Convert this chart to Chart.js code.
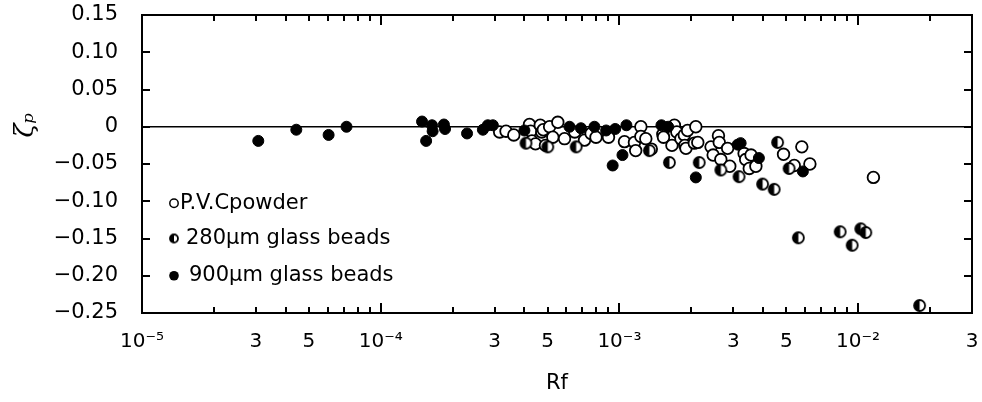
<!DOCTYPE html>
<html>
<head>
<meta charset="utf-8">
<script src="https://cdn.jsdelivr.net/npm/chart.js@4.4.1/dist/chart.umd.min.js"></script>
<style>
  html, body { margin: 0; padding: 0; background: #fff; }
</style>
</head>
<body>
<canvas id="chart" width="982" height="402"></canvas>
<script>
// values
const pvcX = [3.15e-4, 3.35e-4, 3.61e-4, 4.2e-4, 4.25e-4, 4.3e-4, 4.45e-4, 4.66e-4, 4.73e-4, 4.8e-4,
  4.9e-4, 5.1e-4, 5.26e-4, 5.52e-4, 5.89e-4, 6.5e-4, 7.14e-4, 7.61e-4, 7.98e-4, 9.0e-4,
  1.05e-3, 1.156e-3, 1.17e-3, 1.23e-3, 1.23e-3, 1.29e-3, 1.36e-3, 1.52e-3, 1.53e-3, 1.66e-3,
  1.70e-3, 1.74e-3, 1.81e-3, 1.87e-3, 1.88e-3, 1.90e-3, 1.93e-3, 2.06e-3, 2.09e-3, 2.13e-3,
  2.42e-3, 2.47e-3, 2.60e-3, 2.62e-3, 2.66e-3, 2.84e-3, 2.90e-3, 3.33e-3, 3.38e-3, 3.50e-3,
  3.56e-3, 3.73e-3, 4.87e-3, 5.40e-3, 5.81e-3, 6.28e-3, 1.159e-2];
const pvcY = [-0.007, -0.006, -0.011, 0.003, -0.006, -0.019, -0.023, 0.002, -0.007, -0.004,
  -0.025, 0.000, -0.014, 0.006, -0.016, -0.007, -0.018, -0.009, -0.014, -0.014,
  -0.020, -0.021, -0.032, 0.000, -0.013, -0.016, -0.030, -0.010, -0.014, -0.025,
  0.002, -0.007, -0.016, -0.011, -0.025, -0.029, -0.005, -0.022, 0.000, -0.021,
  -0.027, -0.038, -0.012, -0.021, -0.044, -0.029, -0.053, -0.036, -0.044, -0.056,
  -0.038, -0.053, -0.037, -0.052, -0.027, -0.050, -0.068];

const beads280X = [4.06e-4, 5.01e-4, 6.59e-4, 1.335e-3, 1.62e-3, 2.16e-3, 2.66e-3, 3.17e-3, 3.98e-3,
  4.45e-3, 4.6e-3, 5.14e-3, 5.62e-3, 8.41e-3, 9.44e-3, 1.026e-2, 1.077e-2, 1.81e-2];
const beads280Y = [-0.022, -0.027, -0.027, -0.032, -0.048, -0.048, -0.058, -0.067, -0.077,
  -0.084, -0.021, -0.056, -0.149, -0.141, -0.159, -0.137, -0.142, -0.240];

const beads900X = [3.07e-5, 4.43e-5, 6.05e-5, 7.19e-5, 1.49e-4, 1.64e-4, 1.65e-4, 1.55e-4, 1.84e-4,
  1.86e-4, 2.30e-4, 2.68e-4, 2.81e-4, 2.95e-4, 4.0e-4, 6.18e-4, 6.9e-4, 7.86e-4, 8.8e-4,
  9.37e-4, 9.6e-4, 1.03e-3, 1.07e-3, 1.50e-3, 1.60e-3, 2.09e-3, 3.13e-3, 3.22e-3, 3.84e-3, 5.87e-3];
const beads900Y = [-0.019, -0.004, -0.011, 0.000, 0.007, 0.002, -0.006, -0.019, 0.003,
  -0.003, -0.009, -0.004, 0.002, 0.002, -0.005, 0.000, -0.002, 0.000, -0.005,
  -0.052, -0.003, -0.038, 0.002, 0.002, 0.000, -0.068, -0.024, -0.022, -0.042, -0.060];

const seriesLabels = ['P.V.Cpowder', '280µm glass beads', '900µm glass beads'];
const legendRows = [-0.10, -0.15, -0.20];

const xTickValues = [1e-5, 3e-5, 5e-5, 1e-4, 3e-4, 5e-4, 1e-3, 3e-3, 5e-3, 1e-2, 3e-2];
const xTickLabels = ['10⁻⁵', '3', '5', '10⁻⁴', '3', '5', '10⁻³', '3', '5', '10⁻²', '3'];
const yTickValues = [0.15, 0.10, 0.05, 0, -0.05, -0.10, -0.15, -0.20, -0.25];
const yTickLabels = ['0.15', '0.10', '0.05', '0', '−0.05', '−0.10', '−0.15', '−0.20', '−0.25'];

const toPoints = (xs, ys) => xs.map((x, i) => ({ x: x, y: ys[i] }));

// half filled circle for the 280 µm beads
function halfDot(r) {
  const c = document.createElement('canvas');
  const s = Math.ceil(2 * r + 4);
  c.width = s; c.height = s;
  const g = c.getContext('2d');
  const m = s / 2;
  g.fillStyle = '#fff';
  g.beginPath(); g.arc(m, m, r, 0, 2 * Math.PI); g.fill();
  g.fillStyle = '#000';
  g.beginPath(); g.arc(m, m, r, Math.PI / 2, Math.PI * 1.5); g.closePath(); g.fill();
  g.lineWidth = 1.8; g.strokeStyle = '#000';
  g.beginPath(); g.arc(m, m, r, 0, 2 * Math.PI); g.stroke();
  return c;
}
const halfMarker = halfDot(5.5);
const halfMarkerSmall = halfDot(4);

Chart.defaults.font.family = "'DejaVu Sans', sans-serif";
Chart.defaults.color = '#000';

// frame, inward ticks, legend and y title
const framePlugin = {
  id: 'frame',
  afterDraw(chart) {
    const ctx = chart.ctx;
    const a = chart.chartArea;
    const xs = chart.scales.x, ys = chart.scales.y;
    ctx.save();
    ctx.strokeStyle = '#000';
    ctx.lineWidth = 2;
    ctx.strokeRect(a.left, a.top, a.right - a.left, a.bottom - a.top);

    ctx.lineWidth = 2;
    ctx.beginPath();
    for (let d = -5; d <= -2; d++) {
      for (let m = 1; m <= 9; m++) {
        const v = m * Math.pow(10, d);
        if (v <= 1e-5 || v >= 3e-2) continue;
        const px = Math.round(xs.getPixelForValue(v));
        const len = m === 1 ? 10 : 6;
        ctx.moveTo(px, a.bottom); ctx.lineTo(px, a.bottom - len);
        ctx.moveTo(px, a.top); ctx.lineTo(px, a.top + len);
      }
    }
    yTickValues.forEach(v => {
      const py = Math.round(ys.getPixelForValue(v));
      ctx.moveTo(a.left, py); ctx.lineTo(a.left + 8, py);
      ctx.moveTo(a.right, py); ctx.lineTo(a.right - 8, py);
    });
    ctx.stroke();

    // legend inside plot
    ctx.font = "21px 'DejaVu Sans'";
    ctx.textBaseline = 'middle';
    ctx.fillStyle = '#000';
    legendRows.forEach((v, i) => {
      const py = ys.getPixelForValue(v) + (i === 0 ? 2 : 0);
      const mx = 174;
      if (i === 0) {
        ctx.beginPath(); ctx.arc(mx, py, 4.2, 0, 2 * Math.PI);
        ctx.fillStyle = '#fff'; ctx.fill();
        ctx.lineWidth = 1.5; ctx.stroke();
      } else if (i === 1) {
        ctx.drawImage(halfMarkerSmall, mx - halfMarkerSmall.width / 2, py - halfMarkerSmall.height / 2);
      } else {
        ctx.beginPath(); ctx.arc(mx, py, 4.8, 0, 2 * Math.PI);
        ctx.fillStyle = '#000'; ctx.fill();
      }
      ctx.fillStyle = '#000';
      ctx.fillText(seriesLabels[i], i === 0 ? 180 : (i === 1 ? 186 : 189), py);
    });

    // y axis title
    ctx.translate(26, ys.getPixelForValue(0.002));
    ctx.rotate(-Math.PI / 2);
    ctx.textAlign = 'center';
    ctx.font = "italic 26px 'DejaVu Serif'";
    ctx.fillText('ζₚ', 0, 0);
    ctx.restore();
  }
};

new Chart(document.getElementById('chart'), {
  type: 'scatter',
  data: {
    datasets: [
      {
        label: seriesLabels[2],
        data: toPoints(beads900X, beads900Y),
        pointStyle: 'circle',
        pointRadius: 5.5,
        backgroundColor: '#000',
        borderColor: '#000',
        borderWidth: 1
      },
      {
        label: seriesLabels[1],
        data: toPoints(beads280X, beads280Y),
        pointStyle: halfMarker,
        pointRadius: 5.8
      },
      {
        label: seriesLabels[0],
        data: toPoints(pvcX, pvcY),
        pointStyle: 'circle',
        pointRadius: 5.8,
        backgroundColor: '#fff',
        borderColor: '#000',
        borderWidth: 1.8
      }
    ]
  },
  options: {
    responsive: false,
    animation: false,
    layout: { padding: { top: 15, right: 10, left: 0, bottom: 0 } },
    plugins: {
      legend: { display: false },
      tooltip: { enabled: false }
    },
    scales: {
      x: {
        type: 'logarithmic',
        min: 1e-5,
        max: 3e-2,
        afterBuildTicks: s => { s.ticks = xTickValues.map(v => ({ value: v })); },
        afterFit: s => { s.height = 89; s.paddingLeft = 0; s.paddingRight = 0; },
        border: { display: false },
        grid: { display: false, drawTicks: false },
        ticks: {
          autoSkip: false,
          maxRotation: 0,
          padding: 17,
          font: { size: 20 },
          callback: (v, i) => xTickLabels[i]
        },
        title: {
          display: true,
          text: 'Rf',
          font: { size: 21 },
          padding: { top: 0, bottom: 6 }
        }
      },
      y: {
        min: -0.25,
        max: 0.15,
        afterBuildTicks: s => { s.ticks = yTickValues.map(v => ({ value: v })); },
        afterFit: s => { s.width = 142; s.paddingTop = 0; s.paddingBottom = 0; },
        border: { display: false },
        grid: {
          drawTicks: false,
          color: c => (c.tick && c.tick.value === 0 ? '#000' : 'rgba(0,0,0,0)'),
          lineWidth: 1.6
        },
        ticks: {
          padding: 24,
          font: { size: 21 },
          callback: (v, i) => yTickLabels[i]
        }
      }
    }
  },
  plugins: [framePlugin]
});
</script>
</body>
</html>
